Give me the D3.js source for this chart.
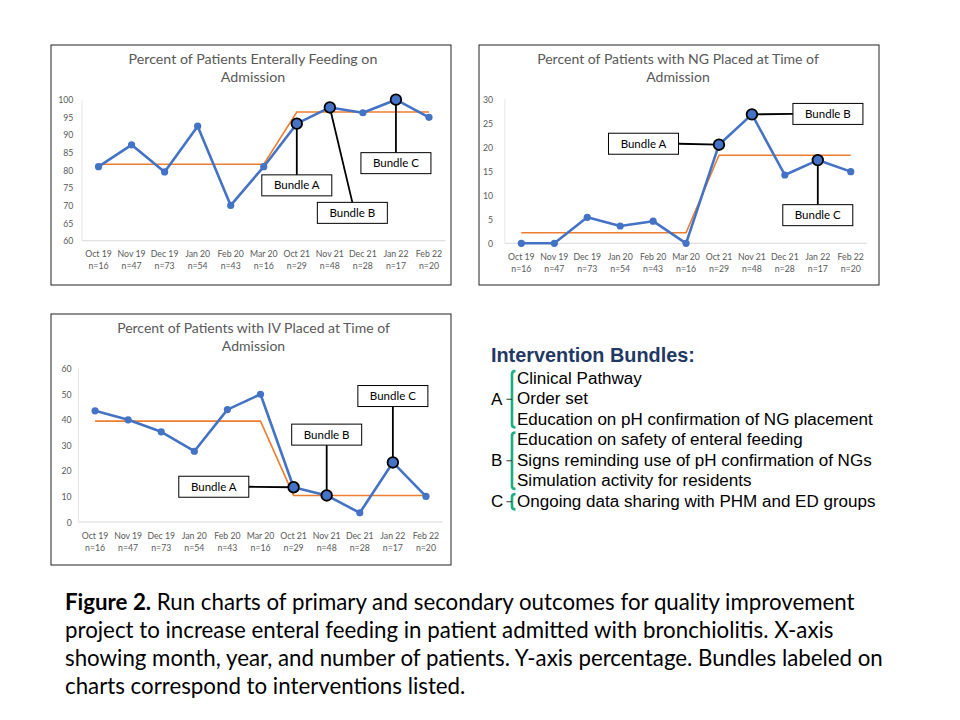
<!DOCTYPE html>
<html><head><meta charset="utf-8">
<script src="https://cdn.jsdelivr.net/npm/d3@7"></script>
<style>body{margin:0;background:#fff}</style>
</head><body>
<svg id="c" width="960" height="720"></svg>
<script>
// ---------------- data ----------------
const months = ["Oct 19","Nov 19","Dec 19","Jan 20","Feb 20","Mar 20","Oct 21","Nov 21","Dec 21","Jan 22","Feb 22"];
const patientCounts = ["n=16","n=47","n=73","n=54","n=43","n=16","n=29","n=48","n=28","n=17","n=20"];
const enteralPct = [81, 87.2, 79.5, 92.5, 70, 81, 93.2, 97.8, 96.3, 100, 95];
const enteralMedian = [81.7, 81.7, 81.7, 81.7, 81.7, 81.7, 96.5, 96.5, 96.5, 96.5, 96.5];
const ngPct = [0, 0, 5.4, 3.6, 4.6, 0, 20.5, 26.8, 14.2, 17.3, 14.9];
const ngMedian = [2.2, 2.2, 2.2, 2.2, 2.2, 2.2, 18.3, 18.3, 18.3, 18.3, 18.3];
const ivPct = [43.5, 40, 35.3, 27.7, 44, 50, 13.6, 10.4, 3.6, 23.3, 10];
const ivMedian = [39.5, 39.5, 39.5, 39.5, 39.5, 39.5, 10.4, 10.4, 10.4, 10.4, 10.4];
const enteralTicks = [60, 65, 70, 75, 80, 85, 90, 95, 100];
const ngTicks = [0, 5, 10, 15, 20, 25, 30];
const ivTicks = [0, 10, 20, 30, 40, 50, 60];
const bundleNames = ["Bundle A", "Bundle B", "Bundle C"];
const bundleMonths = ["Oct 21", "Nov 21", "Jan 22"];
const enteralTitle = ["Percent of Patients Enterally Feeding on", "Admission"];
const ngTitle = ["Percent of Patients with NG Placed at Time of", "Admission"];
const ivTitle = ["Percent of Patients with IV Placed at Time of", "Admission"];
const legendTitle = "Intervention Bundles:";
const legendGroups = ["A", "B", "C"];
const legendItems = [
  ["Clinical Pathway", "Order set", "Education on pH confirmation of NG placement"],
  ["Education on safety of enteral feeding", "Signs reminding use of pH confirmation of NGs", "Simulation activity for residents"],
  ["Ongoing data sharing with PHM and ED groups"]
];
const captionBold = "Figure 2.";
const captionLines = [
  " Run charts of primary and secondary outcomes for quality improvement",
  "project to increase enteral feeding in patient admitted with bronchiolitis. X-axis",
  "showing month, year, and number of patients. Y-axis percentage. Bundles labeled on",
  "charts correspond to interventions listed."
];

// ---------------- layout / style ----------------
const BLUE = "#4472C4", ORANGE = "#ED7D31", GREY = "#595959";
const chartFont = "Lato, 'Open Sans', sans-serif";
const svg = d3.select("#c");

function fit(sel, target, base) {
  sel.style("font-size", base + "px");
  const w = sel.node().getComputedTextLength();
  const s = base * target / w;
  sel.style("font-size", s + "px");
  return s;
}

// tick font size measured from a sample label
const probe = svg.append("text").style("font-family", chartFont).text(months[1]);
const tickFs = fit(probe, 28, 10);
probe.remove();

const charts = [
  { box: {x: 51, y: 45, w: 400, h: 240}, left: 31, right: 394.5, top: 54.7, bottom: 195.7, labelX: 22.3,
    domain: [60, 100], ticks: enteralTicks, values: enteralPct, median: enteralMedian, title: enteralTitle, titleW: 249, titleCx: 202,
    callouts: [{dx: 0, v: 75.7}, {dx: 22.5, v: 67.9}, {dx: 0, v: 82}] },
  { box: {x: 479, y: 45, w: 400, h: 240}, left: 25.9, right: 388.2, top: 54, bottom: 198.3, labelX: 14,
    domain: [0, 30], ticks: ngTicks, values: ngPct, median: ngMedian, title: ngTitle, titleW: 282, titleCx: 199,
    callouts: [{dx: -75.5, v: 20.7}, {dx: 76, v: 26.9}, {dx: 0, v: 5.85}] },
  { box: {x: 51, y: 314, w: 400, h: 251}, left: 27.5, right: 391.5, top: 54.7, bottom: 208, labelX: 20.7,
    domain: [0, 60], ticks: ivTicks, values: ivPct, median: ivMedian, title: ivTitle, titleW: 273, titleCx: 202.5,
    callouts: [{dx: -79.8, v: 13.8}, {dx: 0, v: 34.2}, {dx: 0, v: 49.3}] }
];

charts.forEach(c => {
  const g = svg.append("g").attr("transform", `translate(${c.box.x},${c.box.y})`);
  g.append("rect").attr("x", 0).attr("y", 0).attr("width", c.box.w).attr("height", c.box.h)
    .attr("fill", "#fff").attr("stroke", "#222").attr("stroke-width", 1);

  // title
  const t1 = g.append("text").attr("x", c.titleCx).attr("y", 18.5).attr("text-anchor", "middle")
    .attr("fill", GREY).style("font-family", chartFont).text(c.title[0]);
  const fs = fit(t1, c.titleW, 14);
  g.append("text").attr("x", c.titleCx).attr("y", 36.5).attr("text-anchor", "middle")
    .attr("fill", GREY).style("font-family", chartFont).style("font-size", fs + "px").text(c.title[1]);

  const x = d3.scaleBand().domain(months).range([c.left, c.right]);
  const cx = m => x(m) + x.bandwidth() / 2;
  const y = d3.scaleLinear().domain(c.domain).range([c.bottom, c.top]);

  // axis lines
  g.append("line").attr("x1", c.left).attr("x2", c.right).attr("y1", c.bottom).attr("y2", c.bottom)
    .attr("stroke", "#d9d9d9").attr("stroke-width", 1);
  g.append("line").attr("x1", c.left).attr("x2", c.left).attr("y1", c.top).attr("y2", c.bottom)
    .attr("stroke", "#e6e6e6").attr("stroke-width", 1);

  // y tick labels
  g.selectAll(".yl").data(c.ticks).enter().append("text")
    .attr("x", c.labelX).attr("y", d => y(d) + 3.5).attr("text-anchor", "end")
    .attr("fill", GREY).style("font-family", chartFont).style("font-size", tickFs + "px").text(d => d);

  // x tick labels
  g.selectAll(".xl").data(months).enter().append("text")
    .attr("x", d => cx(d)).attr("y", c.bottom + 16.5).attr("text-anchor", "middle")
    .attr("fill", GREY).style("font-family", chartFont).style("font-size", tickFs + "px").text(d => d);
  g.selectAll(".xn").data(patientCounts).enter().append("text")
    .attr("x", (d, i) => cx(months[i])).attr("y", c.bottom + 28.5).attr("text-anchor", "middle")
    .attr("fill", GREY).style("font-family", chartFont).style("font-size", tickFs + "px").text(d => d);

  const line = d3.line().x((d, i) => cx(months[i])).y(d => y(d));
  g.append("path").attr("d", line(c.median)).attr("fill", "none").attr("stroke", ORANGE).attr("stroke-width", 1.6);
  g.append("path").attr("d", line(c.values)).attr("fill", "none").attr("stroke", BLUE).attr("stroke-width", 2.6)
    .attr("stroke-linejoin", "round");

  // connectors
  const bw = 70, bh = 21;
  const boxes = bundleMonths.map((m, i) => {
    const px = cx(m), py = y(c.values[months.indexOf(m)]);
    const bx = px + c.callouts[i].dx, by = y(c.callouts[i].v);
    let ex, ey;
    if (Math.abs(c.callouts[i].dx) > 40) { ey = by; ex = bx + (bx < px ? bw / 2 : -bw / 2); }
    else { ex = bx; ey = by + (by > py ? -bh / 2 : bh / 2); }
    return {name: bundleNames[i], px, py, bx, by, ex, ey};
  });
  g.selectAll(".cn").data(boxes).enter().append("line")
    .attr("x1", d => d.px).attr("y1", d => d.py).attr("x2", d => d.ex).attr("y2", d => d.ey)
    .attr("stroke", "#000").attr("stroke-width", 1.8);

  // markers
  g.selectAll(".mk").data(c.values).enter().append("circle")
    .attr("cx", (d, i) => cx(months[i])).attr("cy", d => y(d))
    .attr("r", (d, i) => bundleMonths.includes(months[i]) ? 5.3 : 3.6)
    .attr("fill", BLUE)
    .attr("stroke", (d, i) => bundleMonths.includes(months[i]) ? "#000" : "none")
    .attr("stroke-width", 1.8);

  // callout boxes
  g.selectAll(".bx").data(boxes).enter().append("rect")
    .attr("x", d => d.bx - bw / 2).attr("y", d => d.by - bh / 2).attr("width", bw).attr("height", bh)
    .attr("fill", "#fff").attr("stroke", "#000").attr("stroke-width", 1);
  g.selectAll(".bt").data(boxes).enter().append("text")
    .attr("x", d => d.bx).attr("y", d => d.by + 4).attr("text-anchor", "middle")
    .attr("fill", "#000").style("font-family", chartFont).style("font-size", "11.5px").text(d => d.name);
});

// ---------------- legend ----------------
const legFont = "'Liberation Sans', Arial, sans-serif";
const lt = svg.append("text").attr("x", 491).attr("y", 362).attr("fill", "#1F3864")
  .style("font-family", legFont).style("font-weight", "bold").text(legendTitle);
fit(lt, 204, 17);
const lineH = 20.5, firstC = 378, textX = 517;
let idx = 0, itemFs = null;
const longest = svg.append("text").style("font-family", legFont).text(legendItems[0][2]);
itemFs = fit(longest, 356, 16);
longest.remove();
legendItems.forEach((grp, gi) => {
  const startIdx = idx;
  grp.forEach(item => {
    svg.append("text").attr("x", textX).attr("y", firstC + idx * lineH + 5.7).attr("fill", "#000")
      .style("font-family", legFont).style("font-size", itemFs + "px").text(item);
    idx++;
  });
  const top = firstC + startIdx * lineH - 7;
  const bot = firstC + (idx - 1) * lineH + 8.5;
  const mid = (top + bot) / 2;
  const bxX = 512;
  svg.append("path")
    .attr("d", `M${bxX + 3.5},${top} Q${bxX},${top} ${bxX},${top + 3} L${bxX},${bot - 3} Q${bxX},${bot} ${bxX + 3.5},${bot}`)
    .attr("fill", "none").attr("stroke", "#1AAE80").attr("stroke-width", 2.6);
  svg.append("line").attr("x1", bxX - 5.5).attr("x2", bxX).attr("y1", mid).attr("y2", mid)
    .attr("stroke", "#333").attr("stroke-width", 1);
  svg.append("text").attr("x", 491).attr("y", mid + 5.7).attr("fill", "#000")
    .style("font-family", legFont).style("font-size", itemFs + "px").text(legendGroups[gi]);
});

// ---------------- caption ----------------
const capFont = "Lato, 'Open Sans', sans-serif";
const capBase = [610, 638, 666, 693.5];
let capFs = 20;
captionLines.forEach((ln, i) => {
  const t = svg.append("text").attr("x", 65).attr("y", capBase[i]).attr("fill", "#000")
    .style("font-family", capFont).style("font-size", capFs + "px");
  if (i === 0) {
    t.append("tspan").style("font-weight", "bold").text(captionBold);
    t.append("tspan").text(ln);
    capFs = fit(t, 790, 20);
  } else {
    t.text(ln);
  }
});
</script>
</body></html>
